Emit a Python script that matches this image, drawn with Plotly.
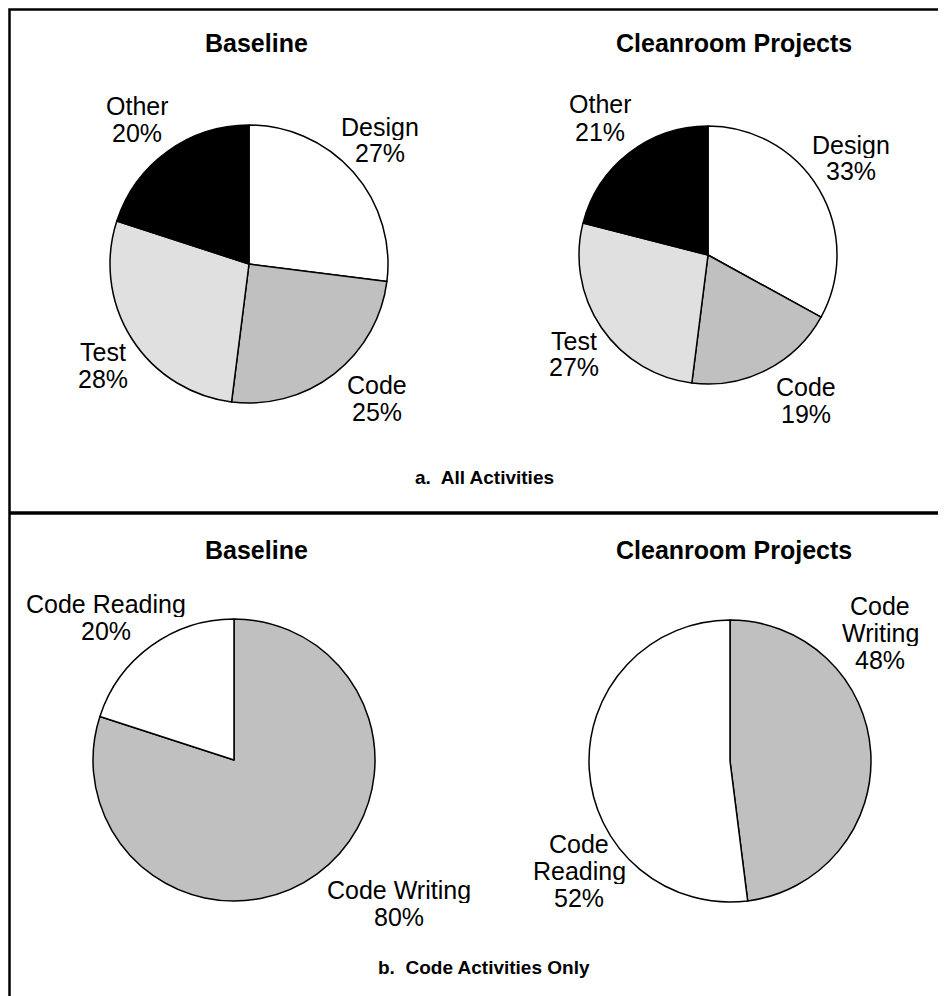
import plotly.graph_objects as go

# ---------------------------------------------------------------------------
# Data
# ---------------------------------------------------------------------------

all_labels = ["Design", "Code", "Test", "Other"]
all_baseline = [27, 25, 28, 20]
all_cleanroom = [33, 19, 27, 21]
all_colors = ["#ffffff", "#c0c0c0", "#e0e0e0", "#000000"]

code_labels = ["Code Writing", "Code Reading"]
code_baseline = [80, 20]
code_cleanroom = [48, 52]
code_colors = ["#c0c0c0", "#ffffff"]

panel_titles = ["Baseline", "Cleanroom Projects"]
captions = ["a.  All Activities", "b.  Code Activities Only"]

# ---------------------------------------------------------------------------
# Geometry helpers (page pixel -> paper); the page body has an 8px margin
# ---------------------------------------------------------------------------

OX, OY = 8, 8
W, H = 938, 988
FONT = "Liberation Sans, Arial, sans-serif"


def px(x):
    return (x - OX) / W


def py(y):
    return 1 - (y - OY) / H


def pie_domain(cx, cy, r):
    return dict(x=[px(cx - r), px(cx + r)], y=[py(cy + r), py(cy - r)])


fig = go.Figure()

pies = [
    (all_labels, all_baseline, all_colors, (249, 264, 139)),
    (all_labels, all_cleanroom, all_colors, (708, 255, 129)),
    (code_labels, code_baseline, code_colors, (234, 760, 141)),
    (code_labels, code_cleanroom, code_colors, (730, 761, 141)),
]

for labels, values, colors, (cx, cy, r) in pies:
    fig.add_trace(go.Pie(
        labels=labels,
        values=values,
        sort=False,
        direction="clockwise",
        rotation=0,
        textinfo="none",
        marker=dict(colors=colors, line=dict(color="black", width=1.5)),
        domain=pie_domain(cx, cy, r),
        showlegend=False,
        hovertemplate="%{label}: %{value}%<extra></extra>",
    ))

# slice labels: name lines + percent, tight line pitch like the original
label_pos = [
    (all_labels, all_baseline, [(380, 140), (377, 399), (103, 365), (137, 120)], False),
    (all_labels, all_cleanroom, [(851, 158), (806, 400), (574, 354), (600, 118)], False),
    (code_labels, code_baseline, [(399, 903), (106, 617)], False),
    (code_labels, code_cleanroom, [(880, 633), (579, 871)], True),
]
PITCH = 27

annotations = []
for labels, values, positions, wrap in label_pos:
    for lab, val, (x, y) in zip(labels, values, positions):
        lines = (lab.split(" ") if wrap else [lab]) + [f"{val}%"]
        n = len(lines)
        for i, line in enumerate(lines):
            annotations.append(dict(
                x=px(x), y=py(y + (i - (n - 1) / 2) * PITCH),
                xref="paper", yref="paper",
                text=line, showarrow=False, height=PITCH - 1,
                font=dict(family=FONT, size=25, color="black"),
                xanchor="center", yanchor="middle",
            ))

# panel titles
title_pos = [((257, 43), (734, 43)), ((257, 550), (734, 550))]
for row in title_pos:
    for title, (tx, ty) in zip(panel_titles, row):
        annotations.append(dict(
            x=px(tx), y=py(ty), xref="paper", yref="paper",
            text=f"<b>{title}</b>", showarrow=False,
            font=dict(family=FONT, size=25, color="black"),
            xanchor="center", yanchor="middle",
        ))

# captions
for cap, cy in zip(captions, (477, 967)):
    annotations.append(dict(
        x=px(484), y=py(cy), xref="paper", yref="paper",
        text=f"<b>{cap}</b>", showarrow=False,
        font=dict(family=FONT, size=19, color="black"),
        xanchor="center", yanchor="middle",
    ))

shapes = [
    dict(type="rect", xref="paper", yref="paper",
         x0=px(9.5), x1=px(944), y0=py(1010), y1=py(9.5),
         line=dict(color="black", width=2.5)),
    dict(type="line", xref="paper", yref="paper",
         x0=px(9.5), x1=px(944), y0=py(513), y1=py(513),
         line=dict(color="black", width=3.5)),
]

fig.update_layout(
    width=W, height=H,
    margin=dict(l=0, r=0, t=0, b=0),
    paper_bgcolor="white",
    plot_bgcolor="white",
    annotations=annotations,
    shapes=shapes,
    font=dict(family=FONT, color="black"),
)

fig.write_html("out.html")
